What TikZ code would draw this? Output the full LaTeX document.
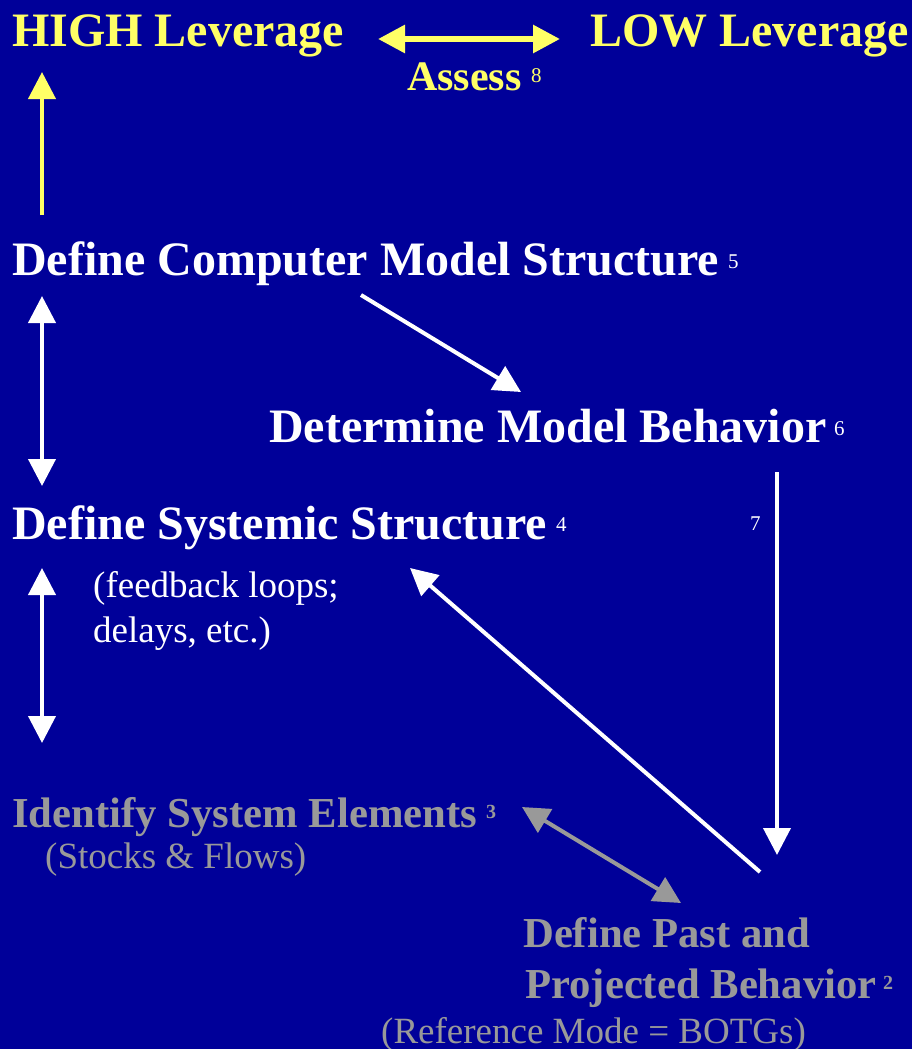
\documentclass[tikz,border=0pt]{standalone}
\usepackage{fontspec}
\setmainfont{Liberation Serif}
\usetikzlibrary{arrows.meta}

\definecolor{slidebg}{RGB}{0,0,153}
\definecolor{levyellow}{RGB}{255,255,102}
\definecolor{stepgray}{RGB}{153,153,153}

\begin{document}
\begin{tikzpicture}[x=1pt,y=-1pt,
    steptext/.style={anchor=base west, inner sep=0pt, font=\fontsize{48}{56}\selectfont\bfseries},
    graytext/.style={anchor=base west, inner sep=0pt, text=stepgray, font=\fontsize{42.7}{50}\selectfont\bfseries},
    notetext/.style={anchor=base west, inner sep=0pt, font=\fontsize{37}{45}\selectfont},
    stepnum/.style={anchor=base west, inner sep=0pt, font=\fontsize{21}{25}\selectfont},
    graynum/.style={anchor=base west, inner sep=0pt, text=stepgray, font=\fontsize{20}{24}\selectfont\bfseries},
    onehead/.style={line width=4pt, -{Triangle[length=27pt,width=27pt]}},
    twohead/.style={line width=4pt, {Triangle[length=27pt,width=27pt]}-{Triangle[length=27pt,width=27pt]}}]

    % Background
    \fill[slidebg] (0,0) rectangle (912,1049);
    \useasboundingbox (0,0) rectangle (912,1049);

    % Leverage labels
    \node[steptext, text=levyellow] (high) at (12,47) {HIGH Leverage};
    \node[steptext, text=levyellow] (low) at (590,47) {LOW Leverage};
    \node[steptext, text=levyellow, font=\fontsize{42}{50}\selectfont\bfseries] (assess) at (407,90) {Assess};
    \node[stepnum, text=levyellow] (n8) at (531,82) {8};

    % Steps
    \node[steptext, text=white] (comp) at (12,275) {Define Computer Model Structure};
    \node[stepnum, text=white] (n5) at (728,268) {5};
    \node[steptext, text=white] (behav) at (269,442) {Determine Model Behavior};
    \node[stepnum, text=white] (n6) at (834,435) {6};
    \node[steptext, text=white] (syst) at (12,539) {Define Systemic Structure};
    \node[stepnum, text=white] (n4) at (556,531) {4};
    \node[notetext, text=white] (loops) at (93,597) {(feedback loops;};
    \node[notetext, text=white] (delays) at (93,642) {delays, etc.)};
    \node[stepnum, text=white] (n7) at (750,530) {7};
    \node[graytext] (elem) at (12,827) {Identify System Elements};
    \node[graynum] (n3) at (486,818) {3};
    \node[notetext, text=stepgray] (stocks) at (45,868) {(Stocks \& Flows)};
    \node[graytext] (past) at (523,947) {Define Past and};
    \node[graytext] (proj) at (525,998) {Projected Behavior};
    \node[graynum] (n2) at (883,989) {2};
    \node[notetext, text=stepgray] (refmode) at (381,1043) {(Reference Mode = BOTGs)};

    % Arrow ends
    \coordinate (assessL) at (378,39);
    \coordinate (assessR) at (560,39);
    \coordinate (upA) at (42,215);
    \coordinate (upB) at (42,72);
    \coordinate (leftA) at (42,296);
    \coordinate (leftB) at (42,486);
    \coordinate (leftC) at (42,568);
    \coordinate (leftD) at (42,743);
    \coordinate (compOut) at (361,295);
    \coordinate (behavIn) at (521,392);
    \coordinate (behavOut) at (777,472);
    \coordinate (pastIn) at (777,855);
    \coordinate (pastOut) at (760,872);
    \coordinate (systIn) at (410,568);
    \coordinate (elemEnd) at (522,807);
    \coordinate (pastEnd) at (681,903);

    % Arrows
    \draw[twohead, levyellow, line width=6pt] (assessL) -- (assessR);
    \draw[onehead, levyellow] (upA) -- (upB);
    \draw[twohead, white] (leftA) -- (leftB);
    \draw[twohead, white] (leftC) -- (leftD);
    \draw[onehead, white] (compOut) -- (behavIn);
    \draw[onehead, white] (behavOut) -- (pastIn);
    \draw[onehead, white] (pastOut) -- (systIn);
    \draw[twohead, stepgray] (elemEnd) -- (pastEnd);

\end{tikzpicture}
\end{document}
